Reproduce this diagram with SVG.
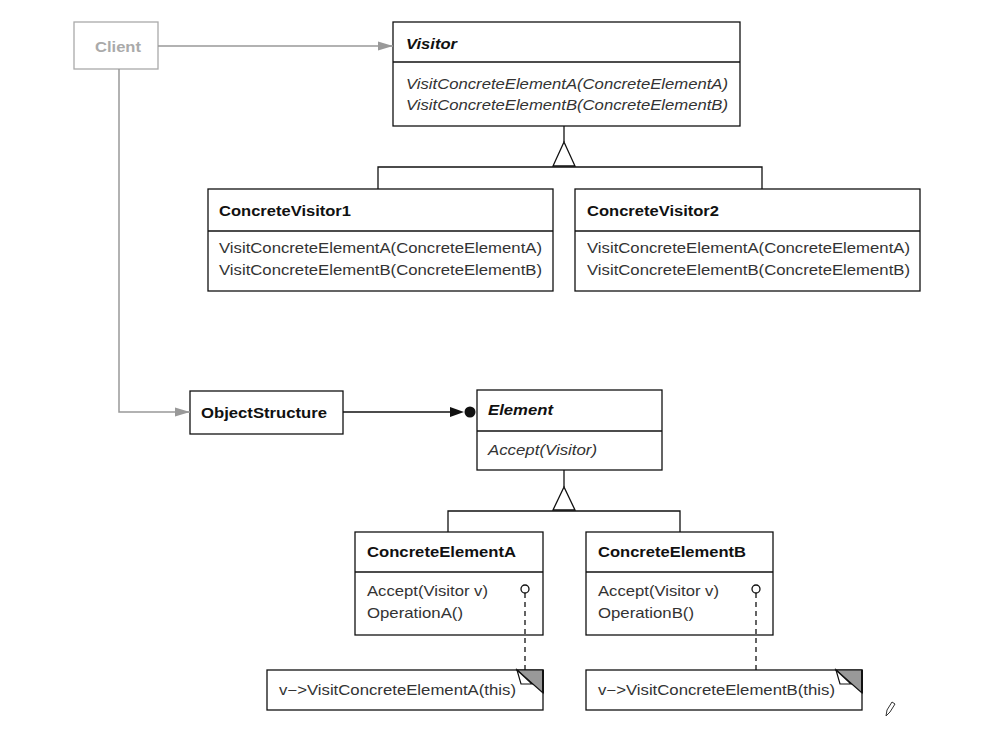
<svg xmlns="http://www.w3.org/2000/svg" width="1004" height="736" viewBox="0 0 1004 736">
<style>
.box{fill:#fff;stroke:#111;stroke-width:1.3}
.gbox{fill:#fff;stroke:#aaa;stroke-width:1.3}
.ln{fill:none;stroke:#111;stroke-width:1.3}
.gln{fill:none;stroke:#999;stroke-width:1.5}
.dash{fill:none;stroke:#111;stroke-width:1.3;stroke-dasharray:5,4}
text{font-family:"Liberation Sans",Arial,sans-serif;font-size:14.5px}
.t{font-weight:bold;fill:#111}
.ti{font-weight:bold;font-style:italic;fill:#111}
.op{fill:#333}
.opi{fill:#333;font-style:italic}
.gt{fill:#aaa;font-weight:bold}
</style>
<defs>
<marker id="garr" markerWidth="16" markerHeight="12" refX="15" refY="6" orient="auto" markerUnits="userSpaceOnUse">
<path d="M0,1.5 L15,6 L0,10.5 z" fill="#999"/>
</marker>
</defs>
<rect width="1004" height="736" fill="#fff"/>

<g id="client">
<rect class="gbox" x="74" y="22" width="84" height="47"/>
<text class="gt" x="95" y="52" textLength="46" lengthAdjust="spacingAndGlyphs">Client</text>
</g>

<g id="visitor">
<rect class="box" x="393" y="22" width="347" height="104"/>
<path class="ln" d="M393,62 H740"/>
<text class="ti" x="406" y="49" textLength="51" lengthAdjust="spacingAndGlyphs">Visitor</text>
<text class="opi" x="406" y="89" textLength="322" lengthAdjust="spacingAndGlyphs">VisitConcreteElementA(ConcreteElementA)</text>
<text class="opi" x="406" y="110" textLength="322" lengthAdjust="spacingAndGlyphs">VisitConcreteElementB(ConcreteElementB)</text>
</g>

<g id="concretevisitor1">
<rect class="box" x="208" y="189" width="345" height="102"/>
<path class="ln" d="M208,231 H553"/>
<text class="t" x="219" y="216" textLength="132" lengthAdjust="spacingAndGlyphs">ConcreteVisitor1</text>
<text class="op" x="219" y="253" textLength="323" lengthAdjust="spacingAndGlyphs">VisitConcreteElementA(ConcreteElementA)</text>
<text class="op" x="219" y="275" textLength="323" lengthAdjust="spacingAndGlyphs">VisitConcreteElementB(ConcreteElementB)</text>
</g>

<g id="concretevisitor2">
<rect class="box" x="575" y="189" width="345" height="102"/>
<path class="ln" d="M575,231 H920"/>
<text class="t" x="587" y="216" textLength="132" lengthAdjust="spacingAndGlyphs">ConcreteVisitor2</text>
<text class="op" x="587" y="253" textLength="323" lengthAdjust="spacingAndGlyphs">VisitConcreteElementA(ConcreteElementA)</text>
<text class="op" x="587" y="275" textLength="323" lengthAdjust="spacingAndGlyphs">VisitConcreteElementB(ConcreteElementB)</text>
</g>

<g id="objectstructure">
<rect class="box" x="190" y="391" width="153" height="43"/>
<text class="t" x="201" y="418" textLength="126" lengthAdjust="spacingAndGlyphs">ObjectStructure</text>
</g>

<g id="element">
<rect class="box" x="477" y="390" width="185" height="80"/>
<path class="ln" d="M477,431 H662"/>
<text class="ti" x="488" y="415" textLength="65" lengthAdjust="spacingAndGlyphs">Element</text>
<text class="opi" x="488" y="455" textLength="109" lengthAdjust="spacingAndGlyphs">Accept(Visitor)</text>
</g>

<g id="concreteelementa">
<rect class="box" x="355" y="532" width="188" height="103"/>
<path class="ln" d="M355,572 H543"/>
<text class="t" x="367" y="557" textLength="149" lengthAdjust="spacingAndGlyphs">ConcreteElementA</text>
<text class="op" x="367" y="596" textLength="121" lengthAdjust="spacingAndGlyphs">Accept(Visitor v)</text>
<text class="op" x="367" y="618" textLength="96" lengthAdjust="spacingAndGlyphs">OperationA()</text>
</g>

<g id="concreteelementb">
<rect class="box" x="586" y="532" width="187" height="103"/>
<path class="ln" d="M586,572 H773"/>
<text class="t" x="598" y="557" textLength="148" lengthAdjust="spacingAndGlyphs">ConcreteElementB</text>
<text class="op" x="598" y="596" textLength="121" lengthAdjust="spacingAndGlyphs">Accept(Visitor v)</text>
<text class="op" x="598" y="618" textLength="96" lengthAdjust="spacingAndGlyphs">OperationB()</text>
</g>

<g id="notea">
<rect class="box" x="267" y="670" width="276" height="40"/>
<path d="M517,670 H543 V693 Z" fill="#999" stroke="#111" stroke-width="1.2"/>
<path d="M517,670 L521,684 H532 Z" fill="#fff" stroke="#111" stroke-width="1.2"/>
<path d="M543,670 V693" stroke="#111" stroke-width="2"/>
<text class="op" x="279" y="695" textLength="237" lengthAdjust="spacingAndGlyphs">v−&gt;VisitConcreteElementA(this)</text>
</g>

<g id="noteb">
<rect class="box" x="586" y="670" width="276" height="40"/>
<path d="M836,670 H862 V693 Z" fill="#999" stroke="#111" stroke-width="1.2"/>
<path d="M836,670 L840,684 H851 Z" fill="#fff" stroke="#111" stroke-width="1.2"/>
<path d="M862,670 V693" stroke="#111" stroke-width="2"/>
<text class="op" x="598" y="695" textLength="237" lengthAdjust="spacingAndGlyphs">v−&gt;VisitConcreteElementB(this)</text>
</g>

<g id="connectors">
<path class="gln" d="M158,46 H393" marker-end="url(#garr)"/>
<path class="gln" d="M119,69 V412 H190" marker-end="url(#garr)"/>
<path class="ln" d="M564,126 V142"/>
<path class="ln" d="M564,142 L553,166 H575 Z" fill="#fff"/>
<path class="ln" d="M378,189 V167 H762 V189"/>
<path class="ln" d="M343,412 H452"/>
<path d="M450,407 L464,412 L450,417 z" fill="#111"/>
<circle cx="470" cy="412" r="5.5" fill="#111"/>
<path class="ln" d="M564,470 V487"/>
<path class="ln" d="M564,487 L553,510 H575 Z" fill="#fff"/>
<path class="ln" d="M448,532 V511 H680 V532"/>
<circle cx="525" cy="589" r="4" fill="#fff" stroke="#111" stroke-width="1.3"/>
<path class="dash" d="M525,593 V670"/>
<circle cx="756" cy="589" r="4" fill="#fff" stroke="#111" stroke-width="1.3"/>
<path class="dash" d="M756,593 V670"/>
</g>

<path d="M886,716 L887,710 L892,702 L895,704 L890,712 Z" fill="#fff" stroke="#333" stroke-width="1"/>
</svg>
